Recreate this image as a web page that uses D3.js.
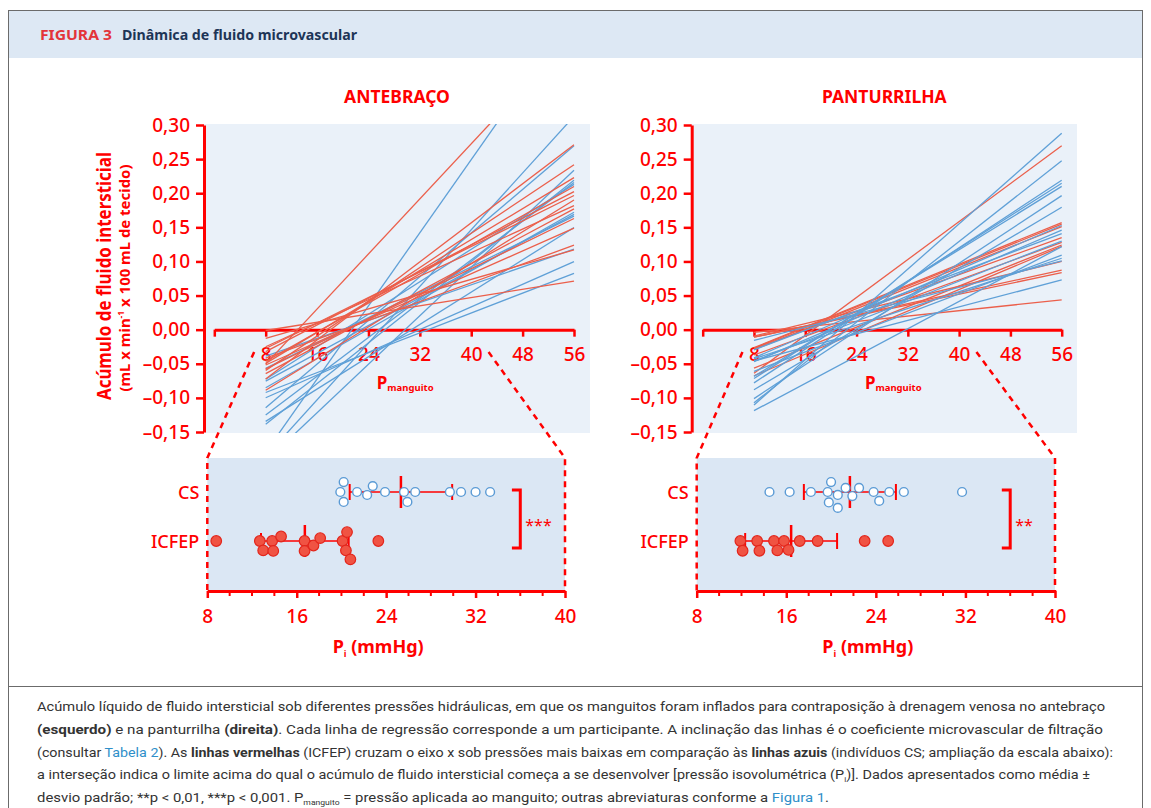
<!DOCTYPE html>
<html>
<head>
<meta charset="utf-8">
<script src="https://cdn.jsdelivr.net/npm/d3@7"></script>
<style>
  body { margin: 0; background: #fff; }
  svg { display: block; font-family: "Noto Sans", "Open Sans", sans-serif; }
</style>
</head>
<body>
<svg id="fig" width="1151" height="808"></svg>
<script>
// isovolumetric pressure Pi (mmHg) of each participant
const piForearmHF = [8.8, 12.7, 13.0, 13.8, 13.9, 14.6, 16.7, 16.7, 17.5, 18.1, 20.1, 20.4, 20.5, 20.8, 23.3]
const piForearmCS = [19.9, 20.2, 20.2, 21.4, 22.3, 22.8, 23.9, 25.6, 25.9, 26.6, 29.7, 30.7, 32.0, 33.3]
const piCalfHF = [11.9, 12.1, 13.4, 13.6, 14.9, 15.2, 15.8, 16.2, 17.2, 18.8, 23.0, 25.1]
const piCalfCS = [14.5, 16.3, 18.2, 19.7, 19.8, 20.0, 20.6, 20.6, 21.3, 21.9, 22.5, 23.8, 24.3, 25.2, 26.5, 31.7]

// slope of each regression line (x 10^-3 mL/min/100 mL/mmHg), same order as the Pi arrays
const slopeForearmHF = [1.51, 2.70, 10.09, 4.31, 4.67, 4.89, 5.67, 5.34, 6.28, 7.15, 3.45, 4.18, 4.59, 5.03, 5.81]
const slopeForearmCS = [3.27, 4.65, 5.95, 13.4, 8.00, 5.09, 5.36, 7.10, 10.39, 7.45, 8.89, 5.92, 4.16, 3.64]
const slopeCalfHF = [0.99, 2.28, 2.05, 1.97, 3.82, 3.79, 3.76, 3.39, 6.95, 3.44, 3.76, 3.95]
const slopeCalfCS = [2.43, 3.55, 4.04, 4.02, 5.80, 5.96, 6.19, 3.67, 8.30, 3.07, 7.39, 5.57, 6.20, 3.55, 2.47, 5.01]

const cuffTicks = [0, 8, 16, 24, 32, 40, 48, 56]
const fluidTicks = [-0.15, -0.10, -0.05, 0, 0.05, 0.10, 0.15, 0.20, 0.25, 0.30]
const piTicks = [8, 16, 24, 32, 40]
const piMinorTicks = d3.range(8, 41, 2)
const groups = ["CS", "ICFEP"]

const RED = "#ff0000"
const LINE_RED = "#eb5f4b"
const LINE_BLUE = "#5fa0d7"

const svg = d3.select("#fig")

// ---- frame + header
svg.append("rect").attr("x", 8.5).attr("y", 10.5).attr("width", 1134).attr("height", 676)
  .attr("fill", "none").attr("stroke", "#6b6b6b")
svg.append("rect").attr("x", 9).attr("y", 11).attr("width", 1133).attr("height", 47).attr("fill", "#dde8f4")
svg.append("path").attr("d", "M8.5,686 V808 M1142.5,686 V808").attr("stroke", "#6b6b6b").attr("fill", "none")

svg.append("text").attr("x", 40).attr("y", 40).attr("font-weight", 700).attr("font-size", 14)
  .attr("fill", "#e3343a").attr("textLength", 72).attr("lengthAdjust", "spacingAndGlyphs")
  .text("FIGURA 3")
svg.append("text").attr("x", 122).attr("y", 40).attr("font-weight", 700).attr("font-size", 14.5)
  .attr("fill", "#1d3557").attr("textLength", 235).attr("lengthAdjust", "spacingAndGlyphs")
  .text("Dinâmica de fluido microvascular")

const fmtFluid = d => (d < -1e-9 ? "\u2013" : "") + d3.format(".2f")(Math.abs(d)).replace(".", ",")

function styleAxis(g, fontSize) {
  g.select(".domain").attr("stroke", RED).attr("stroke-width", 3)
  g.selectAll(".tick line").attr("stroke", RED).attr("stroke-width", 2.5)
  g.selectAll(".tick text").attr("fill", RED).attr("font-size", fontSize)
    .attr("font-family", "'Noto Sans', sans-serif").attr("font-weight", 500)
}

function drawLinesPanel(p) {
  const x = d3.scaleLinear().domain([0, 56]).range([p.x0, p.x1])
  const y = d3.scaleLinear().domain([-0.15, 0.30]).range([432, 125])
  const g = svg.append("g")

  g.append("rect").attr("x", p.axisX).attr("y", 124).attr("width", p.bgRight - p.axisX).attr("height", 309)
    .attr("fill", "#eaf1f9")

  g.append("text").attr("x", (p.axisX + p.bgRight) / 2).attr("y", 103).attr("text-anchor", "middle")
    .attr("fill", RED).attr("font-weight", 700).attr("font-size", 17.5).text(p.title)

  const yAxis = g.append("g").attr("transform", `translate(${p.axisX},0)`)
    .call(d3.axisLeft(y).tickValues(fluidTicks).tickSize(8).tickSizeOuter(0).tickPadding(6).tickFormat(fmtFluid))
  styleAxis(yAxis, 19)

  const xAxis = g.append("g").attr("transform", `translate(0,${y(0)})`)
    .call(d3.axisBottom(x).tickValues(cuffTicks).tickSize(7).tickSizeOuter(0).tickPadding(11)
      .tickFormat(d => d === 0 ? "" : d))
  styleAxis(xAxis, 19)

  const lab = g.append("text").attr("x", x(25.3)).attr("y", 389).attr("fill", RED).attr("font-weight", 700)
  lab.append("tspan").attr("font-size", 17).text("P")
  lab.append("tspan").attr("font-size", 9.5).attr("dy", 2).text("manguito")

  // regression lines, clipped to the plot area
  const clipId = "clip-" + p.key
  svg.append("clipPath").attr("id", clipId).append("rect")
    .attr("x", p.axisX).attr("y", 124).attr("width", p.bgRight - p.axisX).attr("height", 309)

  const line = d3.line().x(d => x(d[0])).y(d => y(d[1]))
  const sets = p.order.map(k => p.sets[k])
  sets.forEach(s => {
    const rows = s.pi.map((pi, i) => ({ pi: pi, k: s.slope[i] / 1000 }))
    g.append("g").attr("clip-path", `url(#${clipId})`)
      .selectAll("path").data(rows).enter().append("path")
      .attr("d", d => line([[8, d.k * (8 - d.pi)], [56, d.k * (56 - d.pi)]]))
      .attr("fill", "none").attr("stroke", s.color).attr("stroke-width", 1.3)
  })
  return x
}

// simple beeswarm: each dot takes the nearest free offset from the row centre
function dodge(values, x, gap) {
  const placed = []
  return values.map(v => {
    const cx = x(v)
    const cands = [0]
    placed.forEach(q => {
      const dx = Math.abs(q.x - cx)
      if (dx < gap) {
        const dy = Math.sqrt(gap * gap - dx * dx)
        cands.push(q.y + dy, q.y - dy)
      }
    })
    cands.sort((a, b) => Math.abs(a) - Math.abs(b))
    let off = 0
    for (const c of cands) {
      if (placed.every(q => (q.x - cx) ** 2 + (q.y - c) ** 2 >= gap * gap - 0.5)) { off = c; break }
    }
    placed.push({ x: cx, y: off })
    return { x: cx, y: off }
  })
}

function drawDotPanel(p, xTop) {
  const x = d3.scaleLinear().domain([8, 40]).range([p.bx0, p.bx1])
  const row = d3.scalePoint().domain(groups).range([492, 541])
  const g = svg.append("g")

  g.append("rect").attr("x", p.bx0).attr("y", 458).attr("width", p.bx1 - p.bx0).attr("height", 133)
    .attr("fill", "#dbe7f4")

  // dashed zoom connectors
  const conn = d3.line()
  g.append("path").attr("d", conn([[xTop(6.2), 352], [p.bx0, 458], [p.bx0, 591]]))
  g.append("path").attr("d", conn([[xTop(42.7), 352], [p.bx1, 458], [p.bx1, 591]]))
  g.selectAll("path").attr("fill", "none").attr("stroke", RED).attr("stroke-width", 2.5)
    .attr("stroke-dasharray", "6,5")

  const ax = g.append("g").attr("transform", "translate(0,591)")
    .call(d3.axisBottom(x).tickValues(piTicks).tickSize(7).tickSizeOuter(0).tickPadding(12))
  styleAxis(ax, 19)
  g.append("g").selectAll("line").data(piMinorTicks.filter(d => d % 8 !== 0)).enter().append("line")
    .attr("x1", d => x(d)).attr("x2", d => x(d)).attr("y1", 591).attr("y2", 596)
    .attr("stroke", RED).attr("stroke-width", 2)

  const lab = g.append("text").attr("x", (p.bx0 + p.bx1) / 2 - 8).attr("y", 653).attr("text-anchor", "middle")
    .attr("fill", RED).attr("font-weight", 700).attr("font-size", 18)
  lab.append("tspan").text("P")
  lab.append("tspan").attr("font-size", 9).attr("dy", 4).text("i")
  lab.append("tspan").attr("dy", -4).text(" (mmHg)")

  g.selectAll(".grp").data(groups).enter().append("text")
    .attr("x", p.bx0 - 8).attr("y", d => row(d) + 6.5).attr("text-anchor", "end")
    .attr("fill", RED).attr("font-size", 18).attr("font-weight", 500).text(d => d)

  const sets = { CS: p.cs, ICFEP: p.hf }
  groups.forEach(grp => {
    const vals = sets[grp]
    const m = d3.mean(vals), sd = d3.deviation(vals), cy = row(grp)
    const eb = g.append("g").attr("stroke", RED)
    eb.append("line").attr("x1", x(m - sd)).attr("x2", x(m + sd)).attr("y1", cy).attr("y2", cy).attr("stroke-width", 1.6)
    eb.append("line").attr("x1", x(m)).attr("x2", x(m)).attr("y1", cy - 16).attr("y2", cy + 16).attr("stroke-width", 2.5)
    eb.selectAll(".cap").data([m - sd, m + sd]).enter().append("line")
      .attr("x1", d => x(d)).attr("x2", d => x(d)).attr("y1", cy - 8).attr("y2", cy + 8).attr("stroke-width", 2)

    const isCS = grp === "CS"
    const pos = dodge(vals, x, isCS ? 10.5 : 10)
    g.append("g").selectAll("circle").data(pos).enter().append("circle")
      .attr("cx", d => d.x).attr("cy", d => cy + d.y)
      .attr("r", isCS ? 4.4 : 5.3)
      .attr("fill", isCS ? "#ffffff" : "#f05343")
      .attr("stroke", isCS ? "#5b9bd5" : "#e3261c")
      .attr("stroke-width", isCS ? 1.4 : 1.2)
  })

  // significance bracket
  g.append("path")
    .attr("d", `M${x(35.25)},${row("CS") - 2} H${x(36)} V${row("ICFEP") + 7} H${x(35.25)}`)
    .attr("fill", "none").attr("stroke", RED).attr("stroke-width", 3)
  g.append("text").attr("x", x(36) + 5).attr("y", 531).attr("fill", RED).attr("font-size", 16)
    .text(p.stars)
}

const xLeft = drawLinesPanel({
  key: "ante", title: "ANTEBRAÇO", axisX: 204, bgRight: 590, x0: 214.3, x1: 574,
  sets: { hf: { pi: piForearmHF, slope: slopeForearmHF, color: LINE_RED },
          cs: { pi: piForearmCS, slope: slopeForearmCS, color: LINE_BLUE } },
  order: ["cs", "hf"]
})
const xRight = drawLinesPanel({
  key: "pant", title: "PANTURRILHA", axisX: 691.7, bgRight: 1077, x0: 702.7, x1: 1061.7,
  sets: { hf: { pi: piCalfHF, slope: slopeCalfHF, color: LINE_RED },
          cs: { pi: piCalfCS, slope: slopeCalfCS, color: LINE_BLUE } },
  order: ["hf", "cs"]
})

// y axis title (left panel only)
svg.append("text").attr("transform", "translate(111,276) rotate(-90)").attr("text-anchor", "middle")
  .attr("fill", RED).attr("font-weight", 700).attr("font-size", 19)
  .attr("textLength", 248).attr("lengthAdjust", "spacingAndGlyphs")
  .text("Acúmulo de fluido intersticial")
const sub = svg.append("text").attr("transform", "translate(130,278) rotate(-90)").attr("text-anchor", "middle")
  .attr("fill", RED).attr("font-weight", 700).attr("font-size", 14)
  .attr("textLength", 227).attr("lengthAdjust", "spacingAndGlyphs")
sub.append("tspan").text("(mL x min")
sub.append("tspan").attr("font-size", 8).attr("dy", -6).text("-1")
sub.append("tspan").attr("dy", 6).text(" x 100 mL de tecido)")

drawDotPanel({ bx0: 207.3, bx1: 565, cs: piForearmCS, hf: piForearmHF, stars: "***" }, xLeft)
drawDotPanel({ bx0: 696.7, bx1: 1055, cs: piCalfCS, hf: piCalfHF, stars: "**" }, xRight)

// ---- caption
const capLines = [
  [["Acúmulo líquido de fluido intersticial sob diferentes pressões hidráulicas, em que os manguitos foram inflados para contraposição à drenagem venosa no antebraço"]],
  [["(esquerdo)", "b"], [" e na panturrilha "], ["(direita)", "b"], [". Cada linha de regressão corresponde a um participante. A inclinação das linhas é o coeficiente microvascular de filtração"]],
  [["(consultar "], ["Tabela 2", "link"], ["). As "], ["linhas vermelhas", "b"], [" (ICFEP) cruzam o eixo x sob pressões mais baixas em comparação às "], ["linhas azuis", "b"], [" (indivíduos CS; ampliação da escala abaixo):"]],
  [["a interseção indica o limite acima do qual o acúmulo de fluido intersticial começa a se desenvolver [pressão isovolumétrica (P"], ["i", "sub"], [")]. Dados apresentados como média ±"]],
  [["desvio padrão; **p < 0,01, ***p < 0,001. P"], ["manguito", "sub"], [" = pressão aplicada ao manguito; outras abreviaturas conforme a "], ["Figura 1", "link"], ["."]]
]
const capWidths = [1068, 1066, 1076, 1053, 792]

capLines.forEach((segs, i) => {
  const t = svg.append("text").attr("x", 37).attr("y", 711 + i * 22.8)
    .attr("font-family", "'Liberation Sans Narrow', 'Roboto', sans-serif")
    .attr("font-size", 13).attr("fill", "#333")
    .attr("textLength", capWidths[i]).attr("lengthAdjust", "spacingAndGlyphs")
  let lift = 0
  segs.forEach(s => {
    const ts = t.append("tspan").text(s[0])
    if (lift) { ts.attr("dy", -lift); lift = 0 }
    if (s[1] === "b") ts.attr("font-weight", 700)
    if (s[1] === "link") ts.attr("fill", "#2f8fc9")
    if (s[1] === "sub") { ts.attr("font-size", 7.5).attr("dy", 2.5); lift = 2.5 }
  })
})
</script>
</body>
</html>
